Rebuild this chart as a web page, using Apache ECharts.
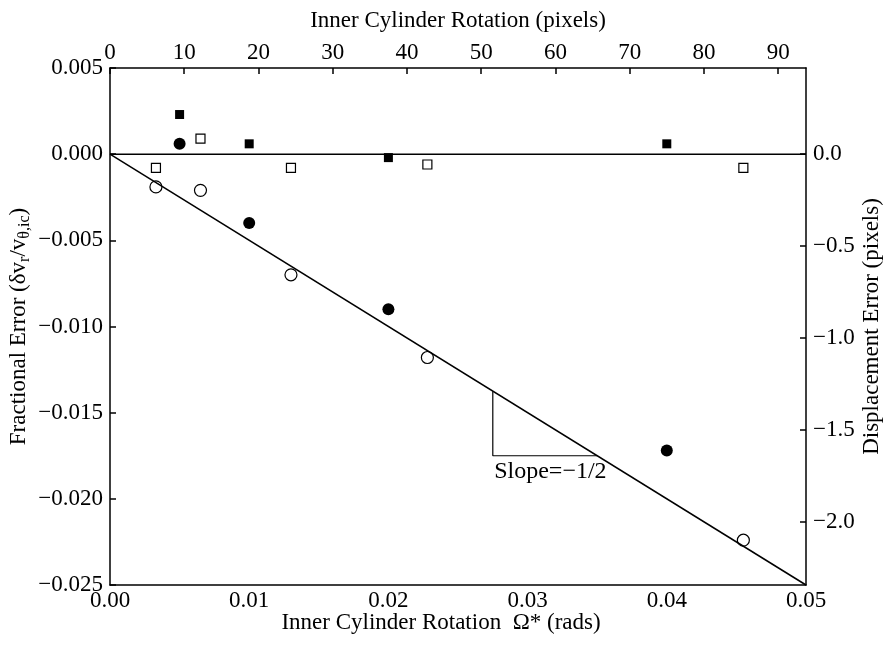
<!DOCTYPE html>
<html>
<head>
<meta charset="utf-8">
<script src="https://cdn.jsdelivr.net/npm/echarts@6/dist/echarts.min.js"></script>
<style>html,body{margin:0;padding:0;background:#fff;}#c{width:883px;height:646px;}</style>
</head>
<body>
<div id="c"></div>
<script>
// ---- data ----
const filledSquareX = [0.005, 0.010, 0.020, 0.040];
const filledSquareY = [0.0023, 0.0006, -0.0002, 0.0006];
const openSquareX = [0.0033, 0.0065, 0.0130, 0.0228, 0.0455];
const openSquareY = [-0.0008, 0.0009, -0.0008, -0.0006, -0.0008];
const filledCircleX = [0.005, 0.010, 0.020, 0.040];
const filledCircleY = [0.0006, -0.0040, -0.0090, -0.0172];
const openCircleX = [0.0033, 0.0065, 0.0130, 0.0228, 0.0455];
const openCircleY = [-0.0019, -0.0021, -0.0070, -0.0118, -0.0224];
const zeroLineX = [0, 0.05];
const zeroLineY = [0, 0];
const slopeLineX = [0, 0.05];
const slopeLineY = [0, -0.025];
const triangleX = [0.0275, 0.0275, 0.0350];
const triangleY = [-0.01375, -0.0175, -0.0175];
const slopeLabelX = [0.0276];
const slopeLabelY = [-0.0175];
const slopeLabelText = 'Slope=\u22121/2';
const bottomTicks = [0, 0.01, 0.02, 0.03, 0.04, 0.05];
const topTicks = [0, 10, 20, 30, 40, 50, 60, 70, 80, 90];
const leftTicks = [0.005, 0, -0.005, -0.010, -0.015, -0.020, -0.025];
const rightTicks = [0, -0.5, -1.0, -1.5, -2.0];

const pair = (xs, ys) => xs.map((x, i) => [x, ys[i]]);
const minus = s => String(s).replace('-', '\u2212');
const FONT = 'Liberation Serif';
const FS = 23;
const black = '#000';

const chart = echarts.init(document.getElementById('c'));
const axLine = {show: true, onZero: false, lineStyle: {color: black, width: 1.5}};
const tick = (vals) => ({show: true, inside: true, length: 6, lineStyle: {color: black, width: 1.5}, customValues: vals});
const labelStyle = {fontFamily: FONT, fontSize: FS, color: black};

chart.setOption({
  animation: false,
  backgroundColor: '#fff',
  grid: {left: 110, right: 77, top: 68, bottom: 61, containLabel: false, outerBoundsMode: 'none'},
  xAxis: [
    {
      type: 'value', position: 'bottom', min: 0, max: 0.05, nameMoveOverlap: false,
      axisLine: axLine, axisTick: {show: false}, splitLine: {show: false},
      axisLabel: Object.assign({}, labelStyle, {margin: 4, customValues: bottomTicks, formatter: v => v.toFixed(2)}),
      name: 'Inner Cylinder Rotation  \u03A9* (rads)', nameLocation: 'middle', nameGap: 26,
      nameTextStyle: {fontFamily: FONT, fontSize: FS, color: black, padding: [0, 34, 0, 0]}
    },
    {
      type: 'value', position: 'top', min: 0, max: 93.75, nameMoveOverlap: false,
      axisLine: axLine, axisTick: tick(topTicks), splitLine: {show: false},
      axisLabel: Object.assign({}, labelStyle, {margin: 4, customValues: topTicks}),
      name: 'Inner Cylinder Rotation (pixels)', nameLocation: 'middle', nameGap: 36,
      nameTextStyle: {fontFamily: FONT, fontSize: FS, color: black}
    }
  ],
  yAxis: [
    {
      type: 'value', position: 'left', min: -0.025, max: 0.005, nameMoveOverlap: false,
      axisLine: axLine, axisTick: tick(leftTicks), splitLine: {show: false},
      axisLabel: Object.assign({}, labelStyle, {margin: 7, customValues: leftTicks, formatter: v => minus(v.toFixed(3))}),
      name: '{t|Fractional Error (\u03B4v}{s|r}{t|/v}{s|\u03B8,ic}{t|)}', nameLocation: 'middle', nameGap: 77, nameRotate: 90,
      nameTextStyle: {fontFamily: FONT, fontSize: FS, color: black,
        rich: {t: {fontFamily: FONT, fontSize: FS, color: black}, s: {fontFamily: FONT, fontSize: 16, color: black, padding: [13, 0, 0, 0]}}}
    },
    {
      type: 'value', position: 'right', min: -2.345, max: 0.469, nameMoveOverlap: false,
      axisLine: axLine, axisTick: tick(rightTicks), splitLine: {show: false},
      axisLabel: Object.assign({}, labelStyle, {margin: 7, customValues: rightTicks, formatter: v => minus(v.toFixed(1))}),
      name: 'Displacement Error (pixels)', nameLocation: 'middle', nameGap: 54, nameRotate: 90,
      nameTextStyle: {fontFamily: FONT, fontSize: FS, color: black}
    }
  ],
  series: [
    {type: 'line', data: pair(zeroLineX, zeroLineY), symbol: 'none', lineStyle: {color: black, width: 1.5}, silent: true},
    {type: 'line', data: pair(slopeLineX, slopeLineY), symbol: 'none', lineStyle: {color: black, width: 1.5}, silent: true},
    {type: 'line', data: pair(triangleX, triangleY), symbol: 'none', lineStyle: {color: black, width: 1.2}, silent: true},
    {type: 'scatter', data: pair(slopeLabelX, slopeLabelY), symbolSize: 0, itemStyle: {opacity: 1},
      label: {show: true, position: 'bottom', align: 'left', distance: 4, formatter: slopeLabelText, fontFamily: FONT, fontSize: 24, color: '#000', opacity: 1}},
    {type: 'scatter', data: pair(openCircleX, openCircleY), symbol: 'circle', symbolSize: 12,
      itemStyle: {color: '#fff', borderColor: black, borderWidth: 1.2, opacity: 1}},
    {type: 'scatter', data: pair(filledCircleX, filledCircleY), symbol: 'circle', symbolSize: 12,
      itemStyle: {color: black, borderColor: black, borderWidth: 0, opacity: 1}},
    {type: 'scatter', data: pair(openSquareX, openSquareY), symbol: 'rect', symbolSize: 9,
      itemStyle: {color: '#fff', borderColor: black, borderWidth: 1.2, opacity: 1}},
    {type: 'scatter', data: pair(filledSquareX, filledSquareY), symbol: 'rect', symbolSize: 9,
      itemStyle: {color: black, borderColor: black, borderWidth: 0, opacity: 1}}
  ]
});
</script>
</body>
</html>
